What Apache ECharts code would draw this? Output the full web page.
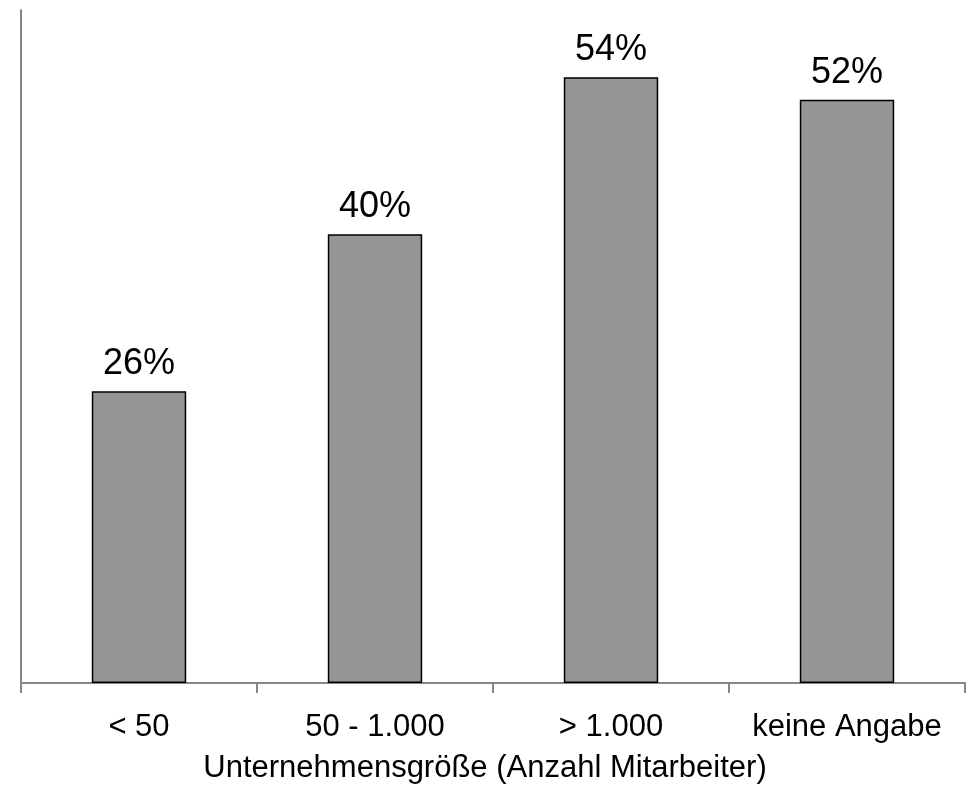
<!DOCTYPE html>
<html>
<head>
<meta charset="utf-8">
<script src="https://cdn.jsdelivr.net/npm/echarts@6/dist/echarts.min.js"></script>
<style>
  html, body { margin: 0; padding: 0; background: #ffffff; }
  #chart { width: 970px; height: 789px; }
</style>
</head>
<body>
<div id="chart"></div>
<script>
// Anteil je Unternehmensgröße (in Prozent)
const categories = ['< 50', '50 - 1.000', '> 1.000', 'keine Angabe'];
const shares = [26, 40, 54, 52];
const axisTitle = 'Unternehmensgröße (Anzahl Mitarbeiter)';

const FONT = '"Liberation Sans", Arial, sans-serif';
const AXIS_GREY = '#868686';

const chart = echarts.init(document.getElementById('chart'), null, { renderer: 'canvas' });

chart.setOption({
  animation: false,
  backgroundColor: '#ffffff',
  grid: { left: 21, right: 5, top: 10, bottom: 99, containLabel: false },
  xAxis: {
    type: 'category',
    data: categories,
    boundaryGap: true,
    axisLine: { show: true, lineStyle: { color: AXIS_GREY, width: 2 } },
    axisTick: { show: true, interval: 0, length: 10, lineStyle: { color: AXIS_GREY, width: 2 } },
    axisLabel: { interval: 0, color: '#000000', fontFamily: FONT, fontSize: 31, margin: 29 },
    name: axisTitle,
    nameLocation: 'middle',
    nameGap: 70,
    nameTextStyle: { color: '#000000', fontFamily: FONT, fontSize: 31, verticalAlign: 'top', padding: [0, 16, 0, 0] }
  },
  yAxis: {
    type: 'value',
    min: 0,
    max: 60,
    axisLine: { show: true, lineStyle: { color: AXIS_GREY, width: 2 } },
    axisTick: { show: false },
    axisLabel: { show: false },
    splitLine: { show: false }
  },
  series: [{
    type: 'bar',
    data: shares,
    barWidth: '40%',
    itemStyle: { color: '#969696', borderColor: '#000000', borderWidth: 1.5 },
    label: {
      show: true,
      position: 'top',
      distance: 9,
      formatter: p => p.value + '%',
      color: '#000000',
      fontFamily: FONT,
      fontSize: 36
    }
  }]
});
</script>
</body>
</html>
